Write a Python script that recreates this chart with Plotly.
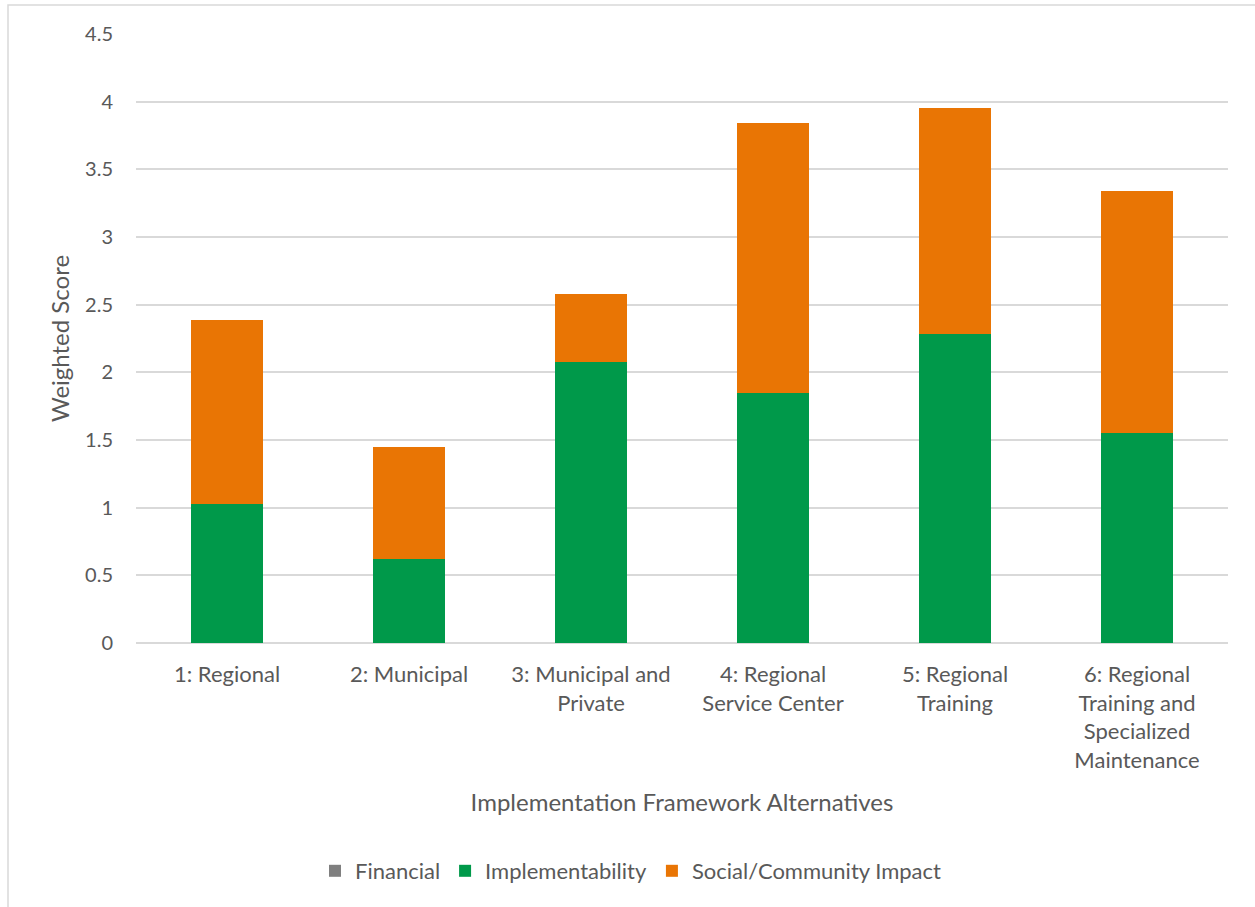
import plotly.graph_objects as go

categories = [
    "1: Regional",
    "2: Municipal",
    "3: Municipal and<br>Private",
    "4: Regional<br>Service Center",
    "5: Regional<br>Training",
    "6: Regional<br>Training and<br>Specialized<br>Maintenance",
]
financial = [0, 0, 0, 0, 0, 0]
implementability = [1.03, 0.62, 2.08, 1.845, 2.28, 1.555]
social_impact = [1.355, 0.825, 0.50, 2.00, 1.675, 1.785]

tick_vals = [0, 0.5, 1, 1.5, 2, 2.5, 3, 3.5, 4, 4.5]
tick_text = ["0", "0.5", "1", "1.5", "2", "2.5", "3", "3.5", "4", "4.5"]

FONT = "Lato, 'Open Sans', sans-serif"
TXT = "#595959"

fig = go.Figure()
fig.add_trace(go.Bar(name="Financial", x=categories, y=financial,
                     marker=dict(color="#7F7F7F", line=dict(width=0))))
fig.add_trace(go.Bar(name="Implementability", x=categories, y=implementability,
                     marker=dict(color="#00994A", line=dict(width=0))))
fig.add_trace(go.Bar(name="Social/Community Impact", x=categories, y=social_impact,
                     marker=dict(color="#E97504", line=dict(width=0))))

L, R, T, B = 136, 27, 34, 264
W, H = 1255, 907
pw = W - L - R
ph = H - T - B

fig.update_layout(
    barmode="stack",
    bargap=0.6,
    width=W, height=H,
    margin=dict(l=L, r=R, t=T, b=B),
    paper_bgcolor="white",
    plot_bgcolor="white",
    font=dict(family=FONT, size=20, color=TXT),
    showlegend=True,
    legend=dict(
        orientation="h",
        x=(631 - L) / pw,
        xanchor="center",
        y=(643 - 871) / ph,
        yanchor="middle",
        font=dict(family=FONT, size=22, color=TXT),
        itemsizing="constant",
        traceorder="normal",
        itemwidth=30,
    ),
    xaxis=dict(
        showgrid=False,
        showline=False,
        ticks="",
        tickfont=dict(family=FONT, size=22, color=TXT),
        ticklabelstandoff=16,
        title=dict(text="Implementation Framework Alternatives",
                   font=dict(family=FONT, size=24, color=TXT),
                   standoff=22),
    ),
    yaxis=dict(
        range=[0, 4.5],
        tickvals=tick_vals,
        ticktext=tick_text,
        showgrid=True,
        gridcolor="#D9D9D9",
        gridwidth=1.5,
        zeroline=True,
        zerolinecolor="#D9D9D9",
        zerolinewidth=1.5,
        showline=False,
        ticks="",
        ticklabelstandoff=22,
        tickfont=dict(family=FONT, size=20, color=TXT),
        title=dict(text="Weighted Score",
                   font=dict(family=FONT, size=24, color=TXT),
                   standoff=8),
    ),
    shapes=[
        dict(type="rect", xref="paper", yref="paper",
             x0=(8 - L) / pw, x1=(W + 20 - L) / pw,
             y0=(643 - (H + 20)) / ph, y1=(643 - 5) / ph,
             line=dict(color="#D9D9D9", width=1.5), fillcolor="rgba(0,0,0,0)",
             layer="below"),
    ],
)

fig.write_html("out.html")
